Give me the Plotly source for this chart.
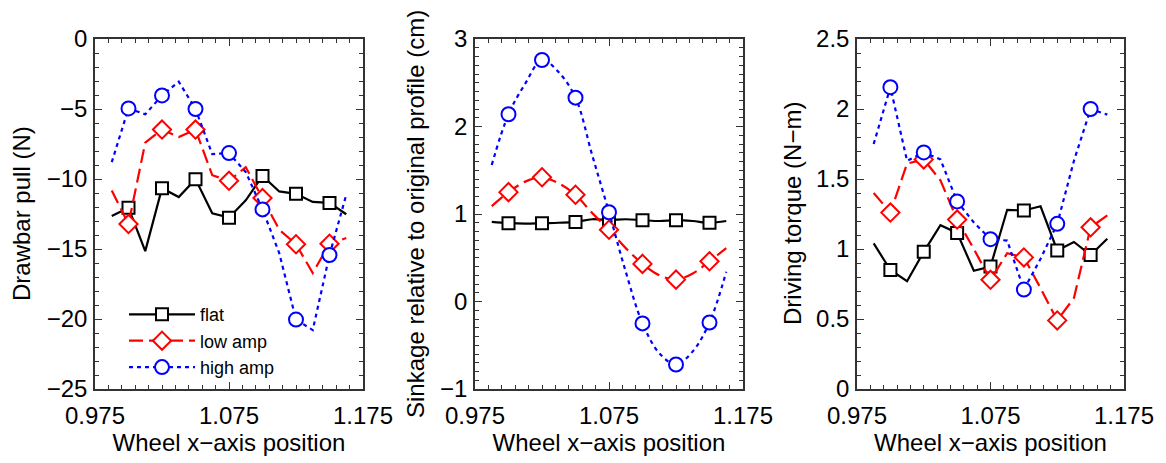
import plotly.graph_objects as go

# ---- data ----
x_pos = [0.9875, 1.0, 1.0125, 1.025, 1.0375, 1.05, 1.0625, 1.075,
         1.0875, 1.1, 1.1125, 1.125, 1.1375, 1.15, 1.1625]

pull_flat = [-12.64, -12.06, -15.15, -10.66, -11.29, -10.01, -12.45, -12.76,
             -11.52, -9.78, -10.89, -11.06, -11.64, -11.71, -12.52]
pull_low = [-10.82, -13.22, -7.4, -6.47, -7.0, -6.47, -9.73, -10.13,
            -9.15, -11.36, -13.62, -14.66, -16.71, -14.62, -14.22]
pull_high = [-8.8, -4.96, -5.38, -4.03, -3.05, -5.0, -8.22, -8.15,
             -9.5, -12.17, -15.3, -20.04, -20.79, -15.43, -11.13]

sink_flat = [0.91, 0.895, 0.89, 0.895, 0.90, 0.91, 0.94, 0.93,
             0.94, 0.93, 0.92, 0.93, 0.92, 0.90, 0.92]
sink_low = [1.09, 1.25, 1.37, 1.42, 1.35, 1.22, 1.01, 0.82,
            0.61, 0.43, 0.30, 0.25, 0.32, 0.46, 0.61]
sink_high = [1.56, 2.14, 2.49, 2.76, 2.62, 2.33, 1.67, 1.02,
             0.34, -0.25, -0.59, -0.72, -0.57, -0.24, 0.34]

torq_flat = [1.04, 0.85, 0.77, 0.98, 1.17, 1.115, 0.845, 0.875,
             1.28, 1.275, 1.305, 0.99, 1.05, 0.957, 1.073]
torq_low = [1.40, 1.26, 1.61, 1.64, 1.49, 1.21, 1.00, 0.78,
            0.97, 0.94, 0.72, 0.49, 0.65, 1.155, 1.24]
torq_high = [1.75, 2.156, 1.63, 1.69, 1.64, 1.34, 1.19, 1.07,
             1.06, 0.71, 0.93, 1.18, 1.63, 2.0, 1.96]

series_names = ["flat", "low amp", "high amp"]
x_ticks = [0.975, 1.075, 1.175]
x_ticktext = ["0.975", "1.075", "1.175"]
y_titles = ["Drawbar pull (N)", "Sinkage relative to original profile (cm)",
            "Driving torque (N\u2212m)"]
x_title = "Wheel x\u2212axis position"

# ---- styles ----
FONT = "Liberation Sans, Arial, Helvetica, sans-serif"
styles = [
    dict(color="#000000", dash="solid", symbol="square", size=12),
    dict(color="#ff0000", dash="14px,6px", symbol="diamond", size=14),
    dict(color="#0000ff", dash="4px,4px", symbol="circle", size=14),
]

W, H = 1166, 463
L, R, T, B = 95, 42, 39, 66
pw = W - L - R
ph = H - T - B

def px2dom(a, b):
    return [(a - L) / pw, (b - L) / pw]

domains = [px2dom(95, 363), px2dom(475, 743), px2dom(857, 1124)]

fig = go.Figure()
panels = [
    (pull_flat, pull_low, pull_high),
    (sink_flat, sink_low, sink_high),
    (torq_flat, torq_low, torq_high),
]
for p, ys in enumerate(panels):
    xa = "x" if p == 0 else f"x{p+1}"
    ya = "y" if p == 0 else f"y{p+1}"
    for s, (yv, st, nm) in enumerate(zip(ys, styles, series_names)):
        shape = "spline" if p == 1 else "linear"
        fig.add_trace(go.Scatter(
            x=x_pos, y=yv, xaxis=xa, yaxis=ya, mode="lines",
            line=dict(color=st["color"], width=2.2, dash=st["dash"], shape=shape),
            showlegend=False, hoverinfo="skip"))
        fig.add_trace(go.Scatter(
            x=x_pos[1::2], y=yv[1::2], xaxis=xa, yaxis=ya, mode="markers",
            marker=dict(symbol=st["symbol"], size=st["size"], color="white",
                        line=dict(color=st["color"], width=2)),
            showlegend=False, hoverinfo="skip"))
        if p == 0:
            fig.add_trace(go.Scatter(
                x=[None], y=[None], xaxis=xa, yaxis=ya, mode="lines+markers",
                name=nm,
                line=dict(color=st["color"], width=2.2, dash=st["dash"]),
                marker=dict(symbol=st["symbol"], size=st["size"], color="white",
                            line=dict(color=st["color"], width=2)),
                showlegend=True))

axis_common = dict(
    showgrid=False, zeroline=False, showline=True, linecolor="#333333",
    linewidth=1.5, mirror="ticks", ticks="inside", ticklen=7,
    tickcolor="#333333", tickwidth=1,
    tickfont=dict(family=FONT, size=24, color="black"),
)
y_specs = [
    dict(range=[-25, 0], tickvals=[-25, -20, -15, -10, -5, 0], minor_dtick=1),
    dict(range=[-1, 3], tickvals=[-1, 0, 1, 2, 3], minor_dtick=0.1),
    dict(range=[0, 2.5], tickvals=[0, 0.5, 1, 1.5, 2, 2.5], minor_dtick=0.1),
]
for p in range(3):
    sfx = "" if p == 0 else str(p + 1)
    fig.layout["xaxis" + sfx] = dict(
        axis_common, domain=domains[p], range=[0.975, 1.175],
        tickvals=x_ticks, ticktext=x_ticktext, anchor="y" + sfx,
        ticklabelstandoff=4,
        minor=dict(dtick=0.01, tick0=0.975, ticks="inside", ticklen=4,
                   tickcolor="#333333", tickwidth=1),
        title=dict(text=x_title, font=dict(family=FONT, size=24, color="black"),
                   standoff=6),
    )
    ys = y_specs[p]
    fig.layout["yaxis" + sfx] = dict(
        axis_common, domain=[0, 1], range=ys["range"], tickvals=ys["tickvals"],
        anchor="x" + sfx, ticklabelstandoff=1,
        minor=dict(dtick=ys["minor_dtick"], tick0=0, ticks="inside", ticklen=4,
                   tickcolor="#333333", tickwidth=1),
    )

# y-axis titles as annotations (pixel-placed)
title_x_px = [21, 415, 792]
for p in range(3):
    fig.add_annotation(
        text=y_titles[p], xref="paper", yref="paper",
        x=(title_x_px[p] - L) / pw, y=0.5, textangle=-90,
        showarrow=False, xanchor="center", yanchor="middle",
        font=dict(family=FONT, size=24, color="black"))

fig.update_layout(
    width=W, height=H, margin=dict(l=L, r=R, t=T, b=B),
    paper_bgcolor="white", plot_bgcolor="white",
    showlegend=True,
    legend=dict(x=(124 - L) / pw, y=(397 - 302) / ph, xanchor="left",
                yanchor="top", bgcolor="rgba(0,0,0,0)",
                font=dict(family=FONT, size=18, color="black"),
                itemwidth=66, tracegroupgap=0),
)

fig.write_html("out.html")
